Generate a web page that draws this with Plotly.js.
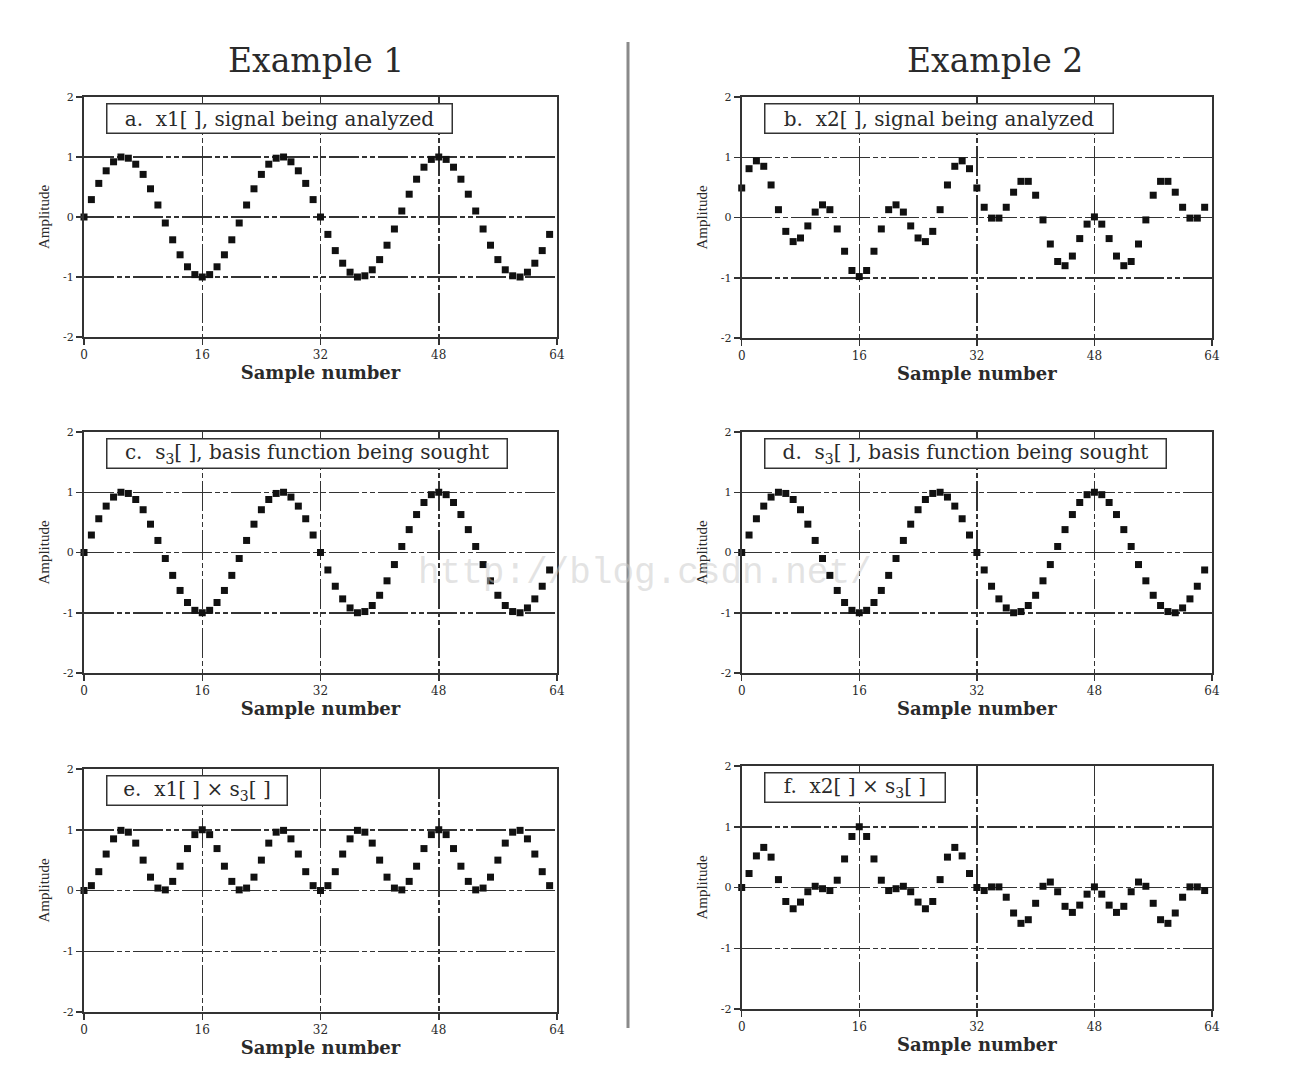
<!DOCTYPE html>
<html>
<head>
<meta charset="utf-8">
<script src="https://cdn.plot.ly/plotly-3.0.1.min.js"></script>
<style>
  html, body { margin: 0; padding: 0; background: #fff; }
  #chart { width: 1292px; height: 1083px; }
</style>
</head>
<body>
<div id="chart"></div>
<script>
// ---- data ----
const sampleNumbers = [0,1,2,3,4,5,6,7,8,9,10,11,12,13,14,15,16,17,18,19,20,21,22,23,24,25,26,27,28,29,30,31,
  32,33,34,35,36,37,38,39,40,41,42,43,44,45,46,47,48,49,50,51,52,53,54,55,56,57,58,59,60,61,62,63];

const x1 = [0,0.29,0.56,0.77,0.92,1.0,0.98,0.88,0.71,0.47,0.2,-0.1,-0.38,-0.63,-0.83,-0.96,-1,-0.96,-0.83,-0.63,-0.38,-0.1,0.2,0.47,0.71,0.88,0.98,1.0,0.92,0.77,0.56,0.29,
  0,-0.29,-0.56,-0.77,-0.92,-1.0,-0.98,-0.88,-0.71,-0.47,-0.2,0.1,0.38,0.63,0.83,0.96,1,0.96,0.83,0.63,0.38,0.1,-0.2,-0.47,-0.71,-0.88,-0.98,-1.0,-0.92,-0.77,-0.56,-0.29];

const x2 = [0.49,0.81,0.94,0.85,0.54,0.13,-0.23,-0.40,-0.34,-0.14,0.09,0.21,0.13,-0.19,-0.56,-0.88,-0.98,-0.88,-0.56,-0.19,0.13,0.21,0.09,-0.14,-0.34,-0.40,-0.23,0.13,0.54,0.85,0.94,0.81,
  0.49,0.17,-0.01,-0.01,0.17,0.42,0.6,0.6,0.37,-0.04,-0.44,-0.73,-0.8,-0.64,-0.35,-0.11,0.01,-0.11,-0.35,-0.64,-0.8,-0.73,-0.44,-0.04,0.37,0.6,0.6,0.42,0.17,-0.01,-0.01,0.17];

const s3 = [0,0.29,0.56,0.77,0.92,1.0,0.98,0.88,0.71,0.47,0.2,-0.1,-0.38,-0.63,-0.83,-0.96,-1,-0.96,-0.83,-0.63,-0.38,-0.1,0.2,0.47,0.71,0.88,0.98,1.0,0.92,0.77,0.56,0.29,
  0,-0.29,-0.56,-0.77,-0.92,-1.0,-0.98,-0.88,-0.71,-0.47,-0.2,0.1,0.38,0.63,0.83,0.96,1,0.96,0.83,0.63,0.38,0.1,-0.2,-0.47,-0.71,-0.88,-0.98,-1.0,-0.92,-0.77,-0.56,-0.29];

const x1TimesS3 = [0,0.08,0.31,0.6,0.85,0.99,0.96,0.78,0.5,0.22,0.04,0.01,0.15,0.4,0.69,0.92,1,0.92,0.69,0.4,0.15,0.01,0.04,0.22,0.5,0.78,0.96,0.99,0.85,0.6,0.31,0.08,
  0,0.08,0.31,0.6,0.85,0.99,0.96,0.78,0.5,0.22,0.04,0.01,0.15,0.4,0.69,0.92,1,0.92,0.69,0.4,0.15,0.01,0.04,0.22,0.5,0.78,0.96,0.99,0.85,0.6,0.31,0.08];

const x2TimesS3 = [0,0.23,0.52,0.66,0.5,0.13,-0.23,-0.35,-0.24,-0.07,0.02,-0.02,-0.05,0.12,0.47,0.84,1.0,0.84,0.47,0.12,-0.05,-0.02,0.02,-0.07,-0.24,-0.35,-0.23,0.13,0.5,0.66,0.52,0.23,
  0,-0.05,0.01,0.01,-0.16,-0.42,-0.59,-0.53,-0.26,0.02,0.09,-0.07,-0.31,-0.41,-0.29,-0.11,0.01,-0.11,-0.29,-0.41,-0.31,-0.07,0.09,0.02,-0.26,-0.53,-0.59,-0.42,-0.16,0.01,0.01,-0.05];

const xTickVals = [0,16,32,48,64];
const xTickText = ["0","16","32","48","64"];
const yTickVals = [-2,-1,0,1,2];
const yTickText = ["-2","-1","0","1","2"];

const panelSeries = [x1, x2, s3, s3, x1TimesS3, x2TimesS3];
const panelLabels = [
  "a.  x1[ ], signal being analyzed",
  "b.  x2[ ], signal being analyzed",
  "c.  s<sub>3</sub>[ ], basis function being sought",
  "d.  s<sub>3</sub>[ ], basis function being sought",
  "e.  x1[ ] × s<sub>3</sub>[ ]",
  "f.  x2[ ] × s<sub>3</sub>[ ]"
];
const columnTitles = ["Example 1", "Example 2"];
const xTitle = "Sample number";
const yTitle = "Amplitude";

// ---- layout geometry (pixels -> paper) ----
const W = 1292, H = 1083;
const colPx = [[84, 557], [741.7, 1212]];
const rowPx = [[[97, 337], [97, 338]], [[432, 673], [432, 673]], [[769, 1012], [766, 1009]]];
const labelBoxWidths = [342, 345, 397, 398, 177, 177];

const serif = "DejaVu Serif, Liberation Serif, serif";
const textColor = "#2a2a2a";
const gridDash = "30px,3px,5px,3px,5px,3px";

const traces = [];
const layout = {
  width: W, height: H,
  margin: {l: 0, r: 0, t: 0, b: 0},
  paper_bgcolor: "#fff",
  plot_bgcolor: "#fff",
  showlegend: false,
  annotations: [],
  shapes: []
};

for (let i = 0; i < 6; i++) {
  const row = Math.floor(i / 2), col = i % 2;
  const sfx = i === 0 ? "" : String(i + 1);
  const [xl, xr] = colPx[col];
  const [yt, yb] = rowPx[row][col];
  traces.push({
    type: "scatter", mode: "markers",
    x: sampleNumbers, y: panelSeries[i],
    xaxis: "x" + sfx, yaxis: "y" + sfx,
    cliponaxis: false,
    marker: {symbol: "square", size: 7, color: "#111"},
    hoverinfo: "x+y"
  });
  layout["xaxis" + sfx] = {
    domain: [xl / W, xr / W],
    anchor: "y" + sfx,
    range: [0, 64],
    tickvals: xTickVals, ticktext: xTickText,
    ticks: "outside", ticklen: 6, tickwidth: 1.5, tickcolor: "#333",
    showline: true, linecolor: "#333", linewidth: 2, mirror: true,
    showgrid: true, gridcolor: "#333", gridwidth: 1.5, griddash: gridDash,
    zeroline: false,
    tickfont: {family: serif, size: 12, color: textColor},
    title: {text: "<b>" + xTitle + "</b>", font: {family: serif, size: 18, color: textColor}, standoff: 2}
  };
  layout["yaxis" + sfx] = {
    domain: [1 - yb / H, 1 - yt / H],
    anchor: "x" + sfx,
    range: [-2, 2],
    tickvals: yTickVals, ticktext: yTickText,
    ticks: "outside", ticklen: 6, tickwidth: 1.5, tickcolor: "#333",
    showline: true, linecolor: "#333", linewidth: 2, mirror: true,
    showgrid: true, gridcolor: "#333", gridwidth: 1.5, griddash: gridDash,
    zeroline: false,
    tickfont: {family: serif, size: 11, color: textColor},
    title: {text: yTitle, font: {family: "Liberation Serif, serif", size: 15, color: textColor}, standoff: 10}
  };
  layout.annotations.push({
    xref: "x" + sfx, yref: "y" + sfx,
    x: 3, y: 1.64, xanchor: "left", yanchor: "middle",
    width: labelBoxWidths[i], height: 26, align: "center", valign: "middle",
    text: panelLabels[i], showarrow: false,
    font: {family: serif, size: 20, color: textColor},
    bgcolor: "#fff", bordercolor: "#333", borderwidth: 1.5, borderpad: 1
  });
}

// column titles
layout.annotations.push({
  xref: "paper", yref: "paper", x: 316 / W, y: 1 - 60 / H,
  xanchor: "center", yanchor: "middle", showarrow: false,
  text: columnTitles[0], font: {family: serif, size: 33, color: textColor}
});
layout.annotations.push({
  xref: "paper", yref: "paper", x: 995 / W, y: 1 - 60 / H,
  xanchor: "center", yanchor: "middle", showarrow: false,
  text: columnTitles[1], font: {family: serif, size: 33, color: textColor}
});
// watermark
layout.annotations.push({
  xref: "paper", yref: "paper", x: 645 / W, y: 1 - 573 / H,
  xanchor: "center", yanchor: "middle", showarrow: false,
  text: "http://blog.csdn.net/",
  font: {family: "Liberation Mono, monospace", size: 36, color: "rgba(200,200,200,0.5)"}
});
// separator line between the two examples
layout.shapes.push({
  type: "line", xref: "paper", yref: "paper",
  x0: 628 / W, x1: 628 / W, y0: 1 - 42 / H, y1: 1 - 1028 / H,
  line: {color: "#8a8a8a", width: 3}
});

Plotly.newPlot("chart", traces, layout, {displayModeBar: false, staticPlot: true});
</script>
</body>
</html>
